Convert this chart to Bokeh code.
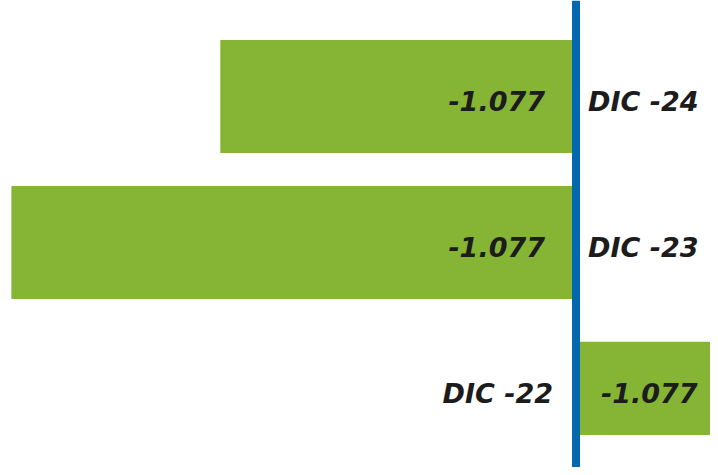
from bokeh.plotting import figure
from bokeh.models import ColumnDataSource, Range1d, Span
from bokeh.core.properties import value
from bokeh.embed import file_html
from bokeh.resources import INLINE

categories = ["DIC -22", "DIC -23", "DIC -24"]
values = [0.96, -4.0, -2.52]
value_labels = ["-1.077", "-1.077", "-1.077"]
rows = [0, 1, 2]

W, H = 710, 467
GREEN = "#86B535"
BLUE = "#0468B1"
FONT = "DejaVu Sans"

p = figure(width=W, height=H, output_backend="svg", toolbar_location=None,
           x_range=Range1d(-4.077, 0.9527), y_range=Range1d(-0.542, 2.657),
           min_border=0, min_border_left=0, min_border_right=0,
           min_border_top=0, min_border_bottom=0)
p.axis.visible = False
p.grid.visible = False
p.outline_line_color = None
p.background_fill_color = "white"

heights = [0.64 if v > 0 else 0.774 for v in values]
src = ColumnDataSource(dict(
    y=rows, v=values, zero=[0] * len(values), h=heights,
))
p.hbar(y="y", left="zero", right="v", height="h", source=src,
       fill_color=GREEN, line_color=None)

p.add_layout(Span(location=0, dimension="height", line_color=BLUE, line_width=8))

neg = ColumnDataSource(dict(
    y=[r for r, v in zip(rows, values) if v < 0],
    x=[0 for v in values if v < 0],
    cat=[c for c, v in zip(categories, values) if v < 0],
    lab=[l for l, v in zip(value_labels, values) if v < 0],
))
pos = ColumnDataSource(dict(
    y=[r for r, v in zip(rows, values) if v >= 0],
    x=[0 for v in values if v >= 0],
    cat=[c for c, v in zip(categories, values) if v >= 0],
    lab=[l for l, v in zip(value_labels, values) if v >= 0],
))

common = dict(text_font=value(FONT), text_font_size="27px", text_font_style="bold italic",
              text_color="#1c1c1c", text_baseline="middle", y_offset=5)
# negative bars: value inside bar to the left of zero, category to the right
p.text(x="x", y="y", text="lab", source=neg, text_align="right", x_offset=-31, **common)
p.text(x="x", y="y", text="cat", source=neg, text_align="left", x_offset=12, **common)
# positive bars: value inside bar to the right, category to the left
p.text(x="x", y="y", text="lab", source=pos, text_align="left", x_offset=25, **common)
p.text(x="x", y="y", text="cat", source=pos, text_align="right", x_offset=-23, **common)

open("out.html", "w").write(file_html(p, INLINE))
